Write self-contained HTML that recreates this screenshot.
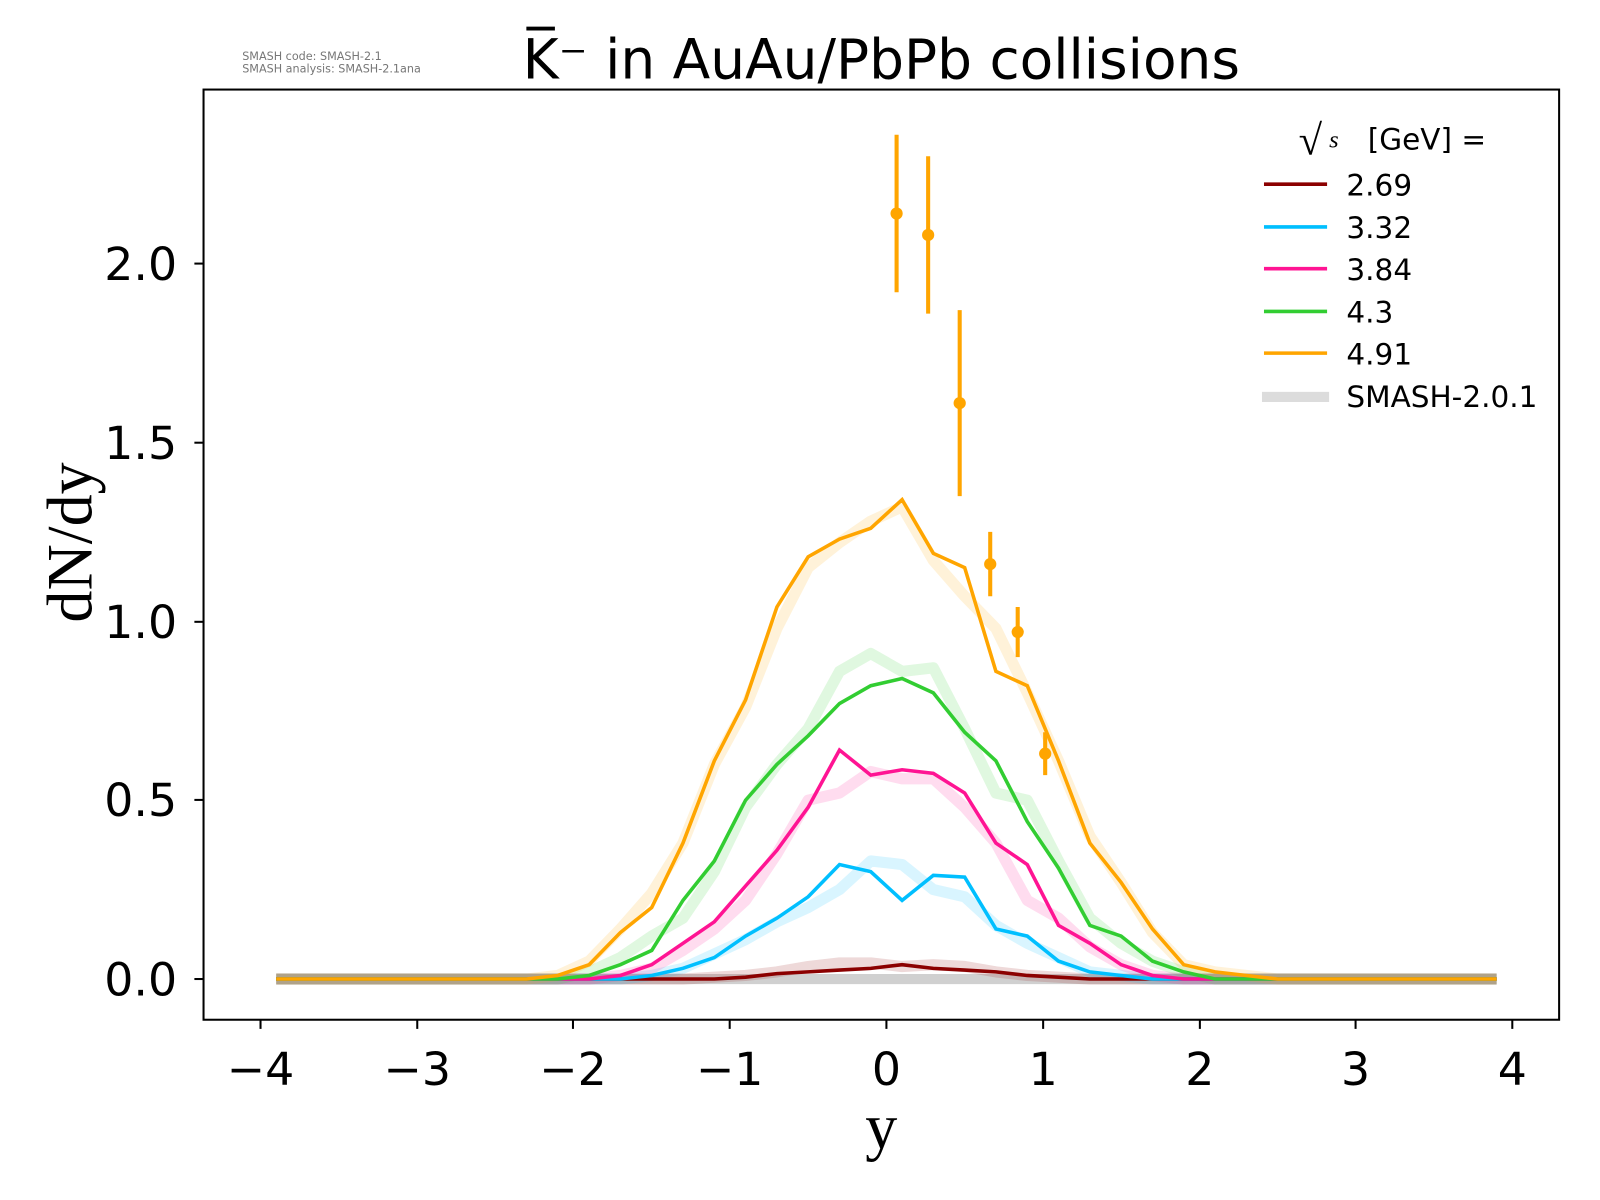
<!DOCTYPE html>
<html><head><meta charset="utf-8"><style>
body{margin:0;background:#fff;}
svg{display:block;font-family:"DejaVu Sans","Liberation Sans",sans-serif;}
</style></head><body>
<svg id="s" width="1600" height="1200" viewBox="0 0 1600 1200">
<rect width="1600" height="1200" fill="#fff"/>
<g transform="scale(1.0177)">
<g id="bands"></g>
<g id="lines"></g>
<g id="err"></g>
<rect x="200" y="88" width="1332" height="914" fill="none" stroke="#000" stroke-width="2"/>
<g stroke="#000" stroke-width="2">
<line x1="256" y1="1002" x2="256" y2="1011"/><line x1="410" y1="1002" x2="410" y2="1011"/>
<line x1="563" y1="1002" x2="563" y2="1011"/><line x1="717" y1="1002" x2="717" y2="1011"/>
<line x1="871" y1="1002" x2="871" y2="1011"/><line x1="1025" y1="1002" x2="1025" y2="1011"/>
<line x1="1179" y1="1002" x2="1179" y2="1011"/><line x1="1332" y1="1002" x2="1332" y2="1011"/>
<line x1="1486" y1="1002" x2="1486" y2="1011"/>
<line x1="191" y1="962" x2="200" y2="962"/><line x1="191" y1="786" x2="200" y2="786"/>
<line x1="191" y1="611" x2="200" y2="611"/><line x1="191" y1="435" x2="200" y2="435"/>
<line x1="191" y1="259" x2="200" y2="259"/>
</g>
<g font-size="45" text-anchor="middle" fill="#000">
<text x="256" y="1066">−4</text><text x="410" y="1066">−3</text><text x="563" y="1066">−2</text>
<text x="717" y="1066">−1</text><text x="871" y="1066">0</text><text x="1025" y="1066">1</text>
<text x="1179" y="1066">2</text><text x="1332" y="1066">3</text><text x="1486" y="1066">4</text>
</g>
<g font-size="45" text-anchor="end" fill="#000">
<text x="174" y="978">0.0</text><text x="174" y="802">0.5</text><text x="174" y="627">1.0</text>
<text x="174" y="451">1.5</text><text x="174" y="275">2.0</text>
</g>
<text x="866" y="1128" font-family="Liberation Serif,serif" font-size="63" text-anchor="middle">y</text>
<text transform="translate(90,533) rotate(-90)" font-family="Liberation Serif,serif" font-size="63" text-anchor="middle">dN/dy</text>
<text x="866" y="77" font-size="54" text-anchor="middle">K̅⁻ in AuAu/PbPb collisions</text>
<text x="238" y="59" font-size="11" fill="#777">SMASH code:      SMASH-2.1</text>
<text x="238" y="71" font-size="11" fill="#777">SMASH analysis: SMASH-2.1ana</text>
<g font-size="29" fill="#000">
<text x="1276" y="152" font-family="Liberation Serif,serif" font-size="42">√</text>
<text x="1306" y="145" font-family="Liberation Serif,serif" font-style="italic" font-size="24">s</text>
<text x="1344" y="147">[GeV] =</text>
<line x1="1242" y1="181" x2="1304" y2="181" stroke="#8b0000" stroke-width="3.5"/><text x="1323" y="192">2.69</text>
<line x1="1242" y1="223" x2="1304" y2="223" stroke="#00bfff" stroke-width="3.5"/><text x="1323" y="234">3.32</text>
<line x1="1242" y1="264" x2="1304" y2="264" stroke="#ff1493" stroke-width="3.5"/><text x="1323" y="275">3.84</text>
<line x1="1242" y1="306" x2="1304" y2="306" stroke="#32cd32" stroke-width="3.5"/><text x="1323" y="317">4.3</text>
<line x1="1242" y1="347" x2="1304" y2="347" stroke="#ffa500" stroke-width="3.5"/><text x="1323" y="358">4.91</text>
<line x1="1240" y1="390" x2="1306" y2="390" stroke="#dcdcdc" stroke-width="10"/><text x="1323" y="400">SMASH-2.0.1</text>
</g>
</g>
</svg>
<script>
var X=v=>871+153.75*v, Y=v=>962-351.5*v;
var ys=[];for(var i=0;i<40;i++)ys.push(-3.9+0.2*i);
function mk(d){return ys.map(y=>{var v=d[y.toFixed(1)]||0;return X(y).toFixed(1)+','+Y(v).toFixed(1)}).join(' ');}
var S={
o:{c:'#ffa500',d:{"-2.1":0.01,"-1.9":0.04,"-1.7":0.13,"-1.5":0.2,"-1.3":0.38,"-1.1":0.61,"-0.9":0.78,"-0.7":1.04,"-0.5":1.18,"-0.3":1.23,"-0.1":1.26,"0.1":1.34,"0.3":1.19,"0.5":1.15,"0.7":0.86,"0.9":0.82,"1.1":0.61,"1.3":0.38,"1.5":0.27,"1.7":0.14,"1.9":0.04,"2.1":0.02,"2.3":0.01},
 b:{"-2.1":0.01,"-1.9":0.05,"-1.7":0.14,"-1.5":0.24,"-1.3":0.38,"-1.1":0.6,"-0.9":0.76,"-0.7":0.98,"-0.5":1.15,"-0.3":1.22,"-0.1":1.28,"0.1":1.32,"0.3":1.17,"0.5":1.07,"0.7":0.98,"0.9":0.8,"1.1":0.61,"1.3":0.4,"1.5":0.27,"1.7":0.13,"1.9":0.04,"2.1":0.02,"2.3":0.01}},
g:{c:'#32cd32',d:{"-1.9":0.01,"-1.7":0.04,"-1.5":0.08,"-1.3":0.22,"-1.1":0.33,"-0.9":0.5,"-0.7":0.6,"-0.5":0.68,"-0.3":0.77,"-0.1":0.82,"0.1":0.84,"0.3":0.8,"0.5":0.69,"0.7":0.61,"0.9":0.44,"1.1":0.31,"1.3":0.15,"1.5":0.12,"1.7":0.05,"1.9":0.02},
 b:{"-1.9":0.02,"-1.7":0.06,"-1.5":0.12,"-1.3":0.17,"-1.1":0.3,"-0.9":0.48,"-0.7":0.6,"-0.5":0.7,"-0.3":0.86,"-0.1":0.91,"0.1":0.86,"0.3":0.87,"0.5":0.7,"0.7":0.52,"0.9":0.5,"1.1":0.33,"1.3":0.17,"1.5":0.1,"1.7":0.05,"1.9":0.02}},
p:{c:'#ff1493',d:{"-1.7":0.01,"-1.5":0.04,"-1.3":0.1,"-1.1":0.16,"-0.9":0.26,"-0.7":0.36,"-0.5":0.48,"-0.3":0.64,"-0.1":0.57,"0.1":0.585,"0.3":0.575,"0.5":0.52,"0.7":0.38,"0.9":0.32,"1.1":0.15,"1.3":0.1,"1.5":0.04,"1.7":0.01},
 b:{"-1.7":0.01,"-1.5":0.03,"-1.3":0.08,"-1.1":0.14,"-0.9":0.22,"-0.7":0.35,"-0.5":0.5,"-0.3":0.52,"-0.1":0.58,"0.1":0.56,"0.3":0.56,"0.5":0.48,"0.7":0.38,"0.9":0.22,"1.1":0.17,"1.3":0.09,"1.5":0.04,"1.7":0.01}},
c:{c:'#00bfff',d:{"-1.5":0.01,"-1.3":0.03,"-1.1":0.06,"-0.9":0.12,"-0.7":0.17,"-0.5":0.23,"-0.3":0.32,"-0.1":0.3,"0.1":0.22,"0.3":0.29,"0.5":0.285,"0.7":0.14,"0.9":0.12,"1.1":0.05,"1.3":0.02,"1.5":0.01},
 b:{"-1.5":0.01,"-1.3":0.03,"-1.1":0.07,"-0.9":0.11,"-0.7":0.16,"-0.5":0.2,"-0.3":0.25,"-0.1":0.33,"0.1":0.32,"0.3":0.25,"0.5":0.23,"0.7":0.15,"0.9":0.1,"1.1":0.06,"1.3":0.02,"1.5":0.01}},
r:{c:'#8b0000',d:{"-0.9":0.005,"-0.7":0.015,"-0.5":0.02,"-0.3":0.025,"-0.1":0.03,"0.1":0.04,"0.3":0.03,"0.5":0.025,"0.7":0.02,"0.9":0.01,"1.1":0.005},
 b:{"-1.1":0.005,"-0.9":0.01,"-0.7":0.02,"-0.5":0.035,"-0.3":0.045,"-0.1":0.045,"0.1":0.035,"0.3":0.04,"0.5":0.035,"0.7":0.02,"0.9":0.01,"1.1":0.005}}};
var ns='http://www.w3.org/2000/svg',B=document.getElementById('bands'),L=document.getElementById('lines');
var g0=document.createElementNS(ns,'polyline');g0.setAttribute('points',mk({}));g0.setAttribute('fill','none');g0.setAttribute('stroke','#d0d0d0');g0.setAttribute('stroke-width','10');B.appendChild(g0);
['r','c','p','g','o'].forEach(k=>{var s=S[k];
var b=document.createElementNS(ns,'polyline');b.setAttribute('points',mk(s.b));b.setAttribute('fill','none');b.setAttribute('stroke',s.c);b.setAttribute('stroke-opacity','0.15');b.setAttribute('stroke-width','11');b.setAttribute('stroke-linejoin','round');B.appendChild(b);
var l=document.createElementNS(ns,'polyline');l.setAttribute('points',mk(s.d));l.setAttribute('fill','none');l.setAttribute('stroke',s.c);l.setAttribute('stroke-width','3.5');L.appendChild(l);});
var E=document.getElementById('err');
[[881,2.14,0.22],[912,2.08,0.22],[943,1.61,0.26],[973,1.16,0.09],[1000,0.97,0.07],[1027,0.63,0.06]].forEach(e=>{
var l=document.createElementNS(ns,'line');l.setAttribute('x1',e[0]);l.setAttribute('x2',e[0]);l.setAttribute('y1',Y(e[1]+e[2]));l.setAttribute('y2',Y(e[1]-e[2]));l.setAttribute('stroke','#ffa500');l.setAttribute('stroke-width','4');E.appendChild(l);
var c=document.createElementNS(ns,'circle');c.setAttribute('cx',e[0]);c.setAttribute('cy',Y(e[1]));c.setAttribute('r','6');c.setAttribute('fill','#ffa500');E.appendChild(c);});
</script>
</body></html>
